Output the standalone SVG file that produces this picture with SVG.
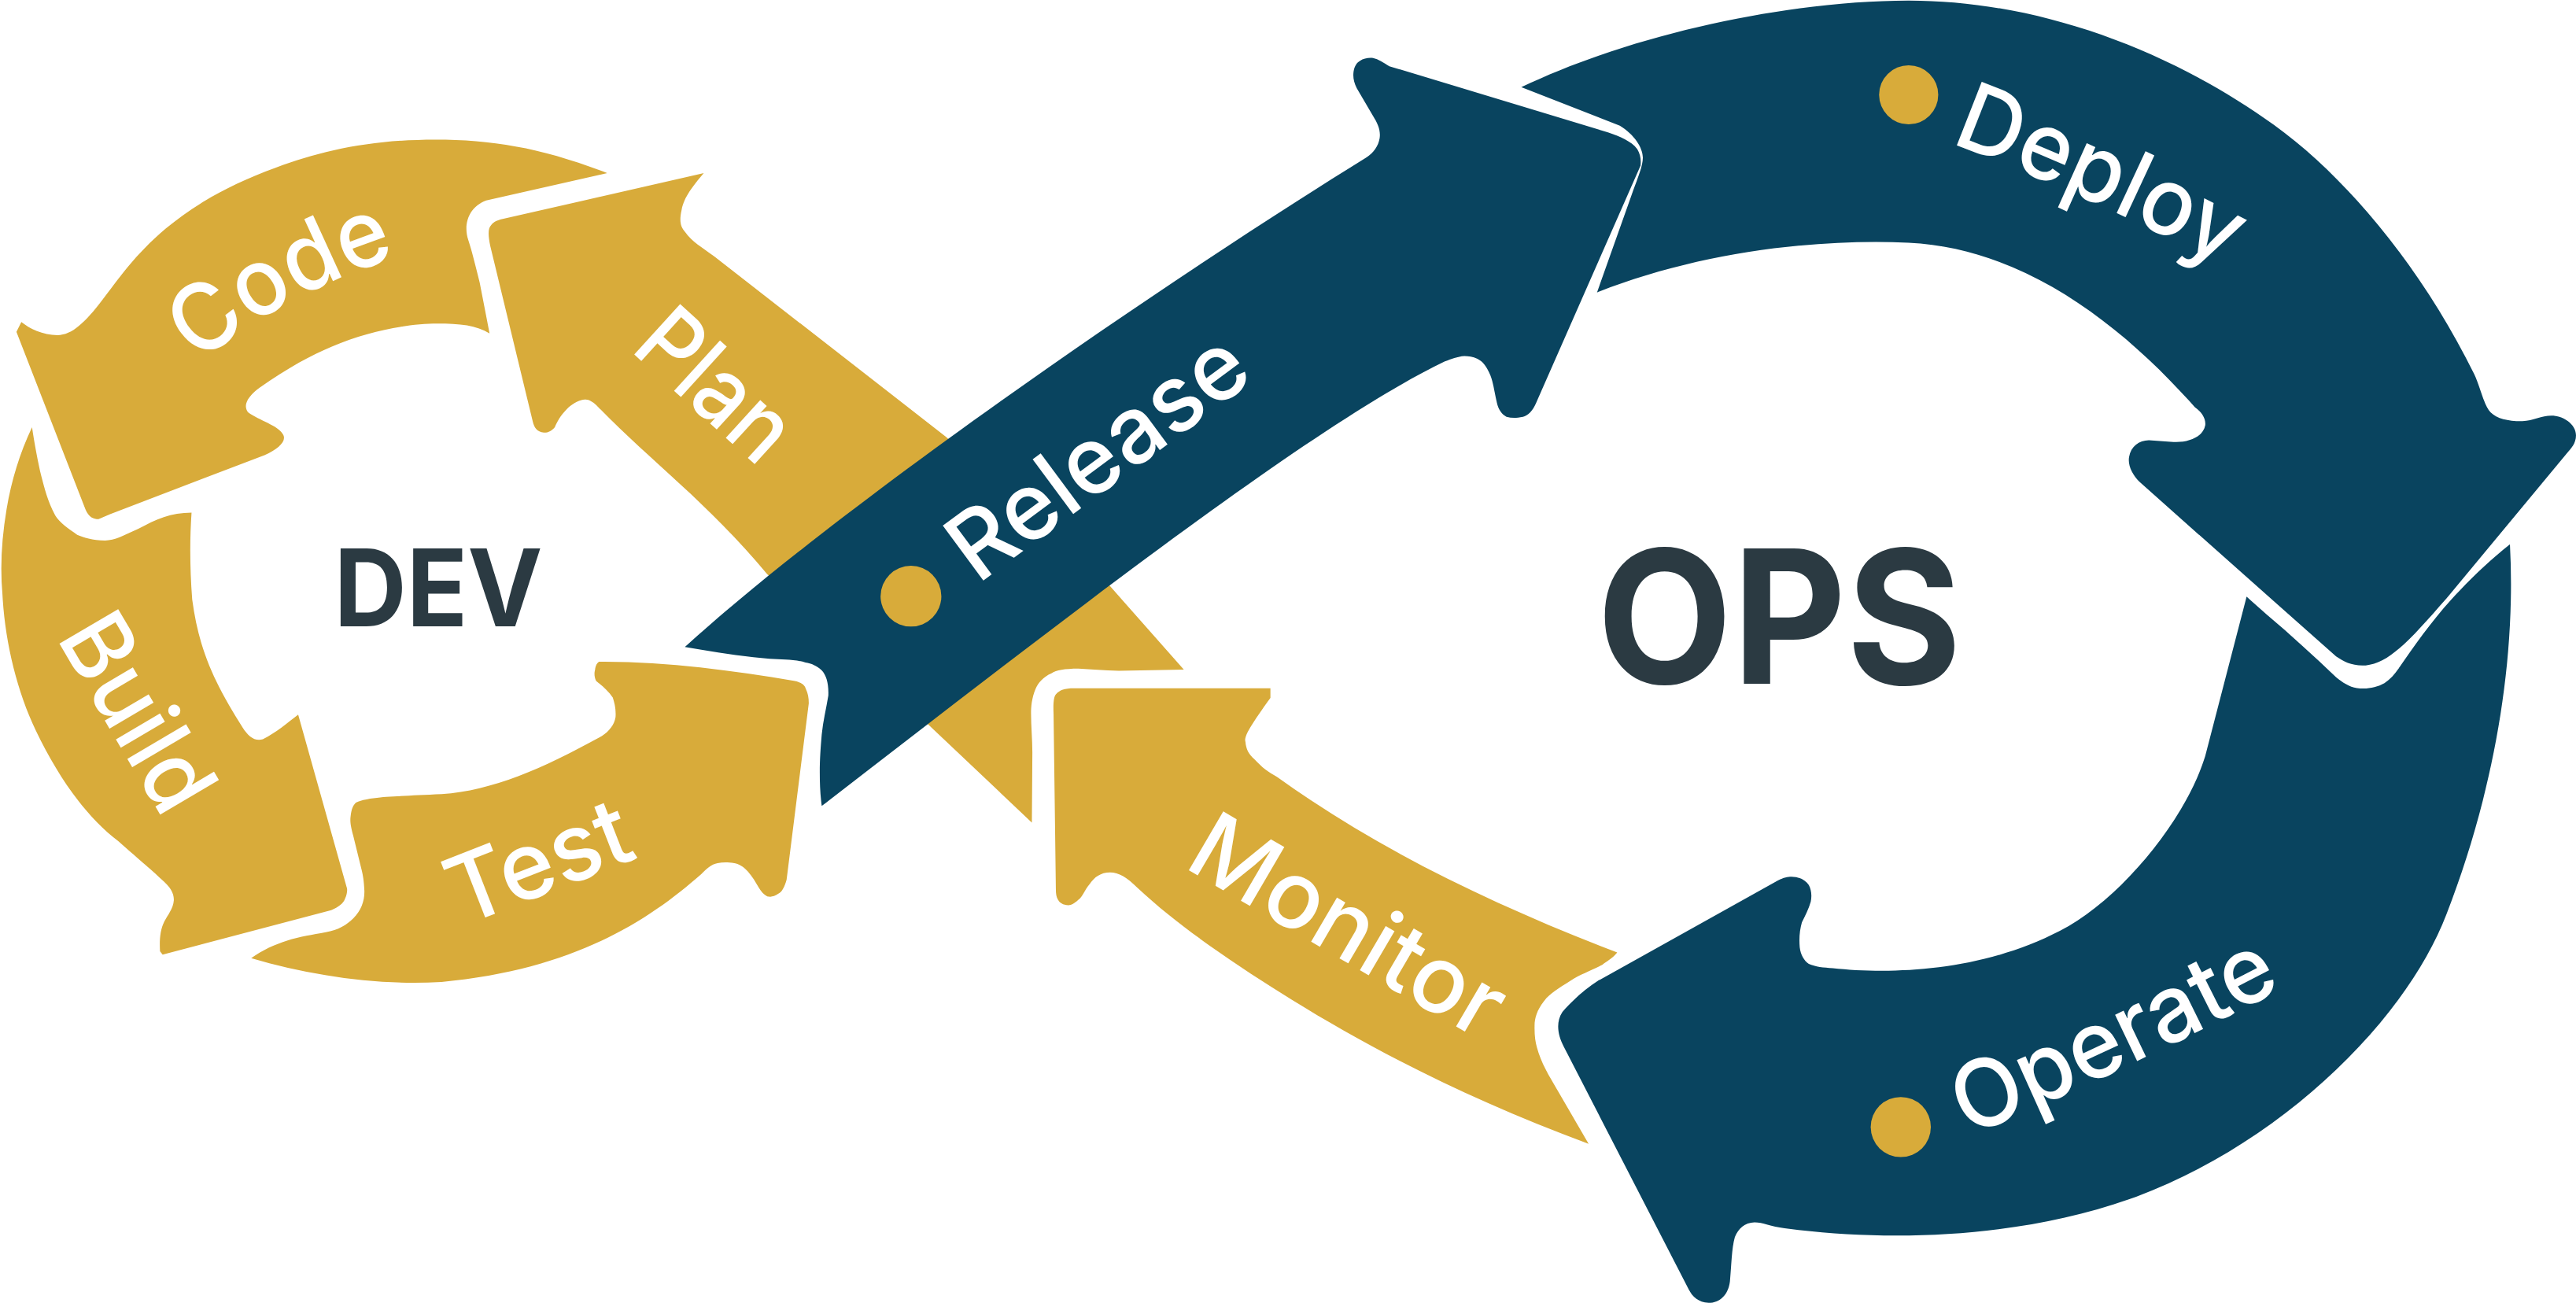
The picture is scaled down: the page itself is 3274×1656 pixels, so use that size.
<svg xmlns="http://www.w3.org/2000/svg" width="3274" height="1656" viewBox="0 0 3274 1656">
<style>
.gold{fill:#D8AB3A}
.navy{fill:#09445F}
.lbl{fill:#FFFFFF;font-family:Inter,"Noto Sans","Liberation Sans",sans-serif;font-weight:500;font-size:57px}
.big{fill:#2B3A42;font-family:Inter,"Noto Sans","Liberation Sans",sans-serif;font-weight:700}
.dot{fill:#D8AB3A}
</style>
<defs>
<path id="pCode" d="M121.4,221.8 Q167.2,180.6 244,155.5"/>
<path id="pDeploy" d="M1187,87 Q1272,119 1358,164"/>
<path id="pOperate" d="M1198,692 Q1302,648 1402,595"/>
</defs>
<rect width="3274" height="1656" fill="#FFFFFF"/>
<g transform="scale(2.088)">
<g id="code">
<path class="gold" d="M369.6,105.4 C330,90 300,85 265,85 C225,85 195,92 168,102 C138,113 118,125 101,139 C82,155 72,170 62,183 C52,196 44,204 35,204 C26,204 18,200 13,196 L10,202 L52,310 C54,315 57,316 60,316 L67,313 L161,277 C170,273 175,268 172,264 C169,259 158,256 151,251 C148,247 150,242 158,236 C175,224 190,216 202,211 C225,201 250,197 266,197 C280,197 290,198 298,203 L292,172 C289,160 287,152 285,146 C282,137 285,126 296,122 Z"/>
<text class="lbl"><textPath href="#pCode" textLength="138" lengthAdjust="spacingAndGlyphs">Code</textPath></text>
</g>
<g id="build">
<path class="gold" d="M19.5,260 C12,276 7,292 4,310 C1,328 0,345 1.5,362 C3,390 10,420 22,445 C35,472 52,497 72,512 C82,521 93,530 98,535 C104,540 106,544 105.8,548 C105.5,553 102,557 100,561 C97.5,566 97,572 97.4,579 L99,581 L201.6,554 C206,552 209,550 210,547 C211.5,544 211.5,541 211,540 L181.5,435 C175,440 168,446 160,450 C155,451.5 151,448 147.8,443 C130,415 121,395 117,365 C115.5,345 115.5,328 116.6,312 C104,312 95,316 84,322 C75,326 70,329 64,329 C56,329 51,327 47,325.5 C42,322 36,318 33.6,313.7 C29,305 27,297 25.2,290 C23,281 21,270 19.5,260 Z"/>
<text class="lbl" transform="translate(34,388) rotate(59.5)" textLength="129" lengthAdjust="spacingAndGlyphs">Build</text>
</g>
<g id="test">
<path class="gold" d="M152.9,583.2 C160,578 167,575 174.7,572.5 C183,570 190,569 198.3,567.4 C206,566 211,563 215,559 C220,554 222,548 221.8,542 C221.5,536 221,533 220,529 L215,508.6 C213.5,503 213,500 213.4,497 C214,492 215,490 216.7,488.5 C222,486 230,485.5 235,485 C245,484.5 255,484 268.8,483.4 C300,481 330,468 366.3,448 C371,445 374,441 374.7,436.4 C375,431 374,428 373,424.6 C370,420 366,417 362.9,414.5 C361.5,412 361.8,409 362.2,407.8 C362.5,405 363.5,403.5 364.6,402.8 C405,402.5 445,408 483.9,414.5 C488,415.5 490,417 490.6,419.6 C491.8,422 492.3,425 492.3,428 L478.8,535.5 C477.5,540 476,543 473.8,544 C471,546 469,546 467,545.6 C465,544.5 463.5,543 462,540.5 C460,537 458,533.5 455.3,530.5 C452.5,527.5 450,526 447,525.4 C443,524.8 440,524.8 436.8,525.4 C433,526 430,529 426.7,532.2 C395,560 350,590 268.8,597.7 C230,600 190,594 152.9,583.2 Z"/>
<text class="lbl" transform="translate(281,564) rotate(-21.3)" textLength="116" lengthAdjust="spacingAndGlyphs">Test</text>
</g>
<g id="plan">
<path class="gold" d="M428.4,105.4 C421,114 416,121 414.9,127.7 C413.5,134 414,138 416.9,141 C421,147 428,151 434.7,156 L576,266 L675,356 L720.6,407.6 L681,408.3 C672,408 664,407.5 656.4,407 C648,407 643,408 640,409.8 C635,412 632,415.5 630.3,419.4 C628,425 627.6,430 627.6,434.4 C627.6,442 628.4,450 628.4,458 L628.1,500.7 L565,441 L467,349.5 C430,305 395,280 362.9,246.5 C360,244 358,243 356,243.2 C352,243.5 348,246 345,249 C341,253 339,257 337.7,260 C336,262 333.5,263.5 331,263.3 C327,263 325,260 324.3,256.6 L298.5,150 C297,143 297,139 299,137 C300.5,135 303,134 306,133.3 Z"/>
<text class="lbl" transform="translate(383,213) rotate(42.3)" textLength="107" lengthAdjust="spacingAndGlyphs">Plan</text>
</g>
<g id="monitor">
<path class="gold" d="M653.7,419 L773.3,419 L773.3,424.8 C768,432 764,438 760.9,443 C758.5,447 757.5,450 758.1,451.5 C758.5,456 760,459 763.6,462.2 C768,467 772,470 777.4,472.9 C840,518 910,551 984.4,579.8 C981,584 978,585 975.3,587.3 C968,591 962,593 956.1,596.9 C948,602 943,605 939.6,609.7 C935.5,615 934,620 934.1,624.7 C934,630 934.5,634 935.5,637.5 C938,647 943,655 947.8,663.2 L967,696.3 C870,660 800,620 736.2,575.5 C720,564 706,553 692.2,540.2 C686,534 681,531 675.7,531 C670,531 666,534 663.3,538.1 C660,542 659,546 656.4,547.7 C654,550 652,551 650.4,551 C647,551 645,549.5 644,547.7 C643,546 642.7,544 642.7,541.3 L641.3,434.4 C641,428 641.5,424 642.7,422.7 C645,420 648,419 653.7,419 Z"/>
<text class="lbl" transform="translate(719.7,527.4) rotate(30.3)" textLength="211" lengthAdjust="spacingAndGlyphs">Monitor</text>
</g>
<g id="release">
<path class="navy" d="M416.9,393.8 C500,318 680,190 831.8,95.8 C836,93 839,89 839.8,84 C840.5,79 838.5,75 835.8,70.6 L825.9,53.8 C824,50 823.5,47 823.9,43.7 C824.5,40 826,38 827.9,37 C830,35.5 833,35 835.8,35.3 C839,36 842,38 845.7,40.3 L978.8,80.6 C986,83 993,86 996.6,90.7 C998.5,94 999,97 998.6,100.8 L935,245.3 C933,250 930,253 927,253.7 C923,254.5 920,254.5 917,253.7 C914,252 912,249 911.2,245.3 C909.5,238 909,233 907.2,228.5 C905,223 902.5,220 899.3,218.4 C896.5,217 894,216.7 891.4,216.7 C887,217 883.5,218.5 879.5,220 C800,258 650,375 500.2,490.6 C499.3,484 499,477 499,470.4 C499,462 499.5,455 500.2,446.9 C501,439 503,431 504.2,423.4 C504.5,416 503,411 500.2,408 C497,405 494,403.8 490.3,403.2 C486,402 482,401.7 478.4,401.5 C472,401.2 465,400.8 458.6,400 C444,398.5 430,396 416.9,393.8 Z"/>
<circle class="dot" cx="554.5" cy="362.9" r="18.5"/>
<text class="lbl" transform="translate(595,356) rotate(-36.5)" textLength="211" lengthAdjust="spacingAndGlyphs">Release</text>
</g>
<g id="deploy">
<path class="navy" d="M926,53.1 C995,20 1090,0.3 1161.8,0.3 C1240,0.3 1320,30 1384,75.9 C1430,109 1475,165 1506,227.6 C1510,236 1512,247 1516,251 C1520,255 1527,256.5 1535.4,256.4 C1542,256 1547,253 1553,253 C1560,253 1568,258 1568,265 C1568,270 1565,273 1562.6,275.7 L1489.2,364.2 C1470,386 1455,404 1440,405 C1432,405.5 1427,403 1422,399.6 L1302.4,293.4 C1298,289 1295,283 1296,278 C1297,272 1302,268 1308,268 L1323,269 C1332,269.5 1341,266 1342.3,259 C1343,254 1339,250 1336,247.8 C1292,198 1232,151 1161.8,147.7 C1100,145 1030,155 972.1,178 L994,116.3 C997,108 1000,101 1000,96 C1000,90 995,82 986,76.5 Z"/>
<circle class="dot" cx="1161.8" cy="57.7" r="18"/>
<text class="lbl"><textPath href="#pDeploy" textLength="184" lengthAdjust="spacingAndGlyphs">Deploy</textPath></text>
</g>
<g id="operate">
<path class="navy" d="M1527.8,331.3 C1532,410 1515,490 1489.2,556.4 C1465,620 1390,695 1300.3,728.4 C1230,754 1150,756 1086.3,747.6 C1078,746.5 1073,744 1068,744 C1062,744 1058,748 1056,753 C1054,760 1054,770 1053,780 C1052,788 1047,793 1040,793 C1034,793 1030,789 1028,785 L952,637.3 C948,630 947,622 951,616 C957,609 965,602 973,596.8 L1082,536 C1086,534 1088,533.6 1090.5,533.6 C1095,533.6 1099,535.5 1101,538.7 C1102.5,541.5 1103,545 1102.2,548.8 C1101,553 1099,557 1096.8,561.4 C1095.5,566 1095,571 1095.5,576.6 C1096,581 1098,584.5 1101,586.7 C1105,588.5 1110,589 1115.6,589.3 C1150,593 1205,592 1254.1,566.5 C1290,548 1330,500 1342.3,460.3 L1367.5,363.2 L1380,374.3 C1394,386 1408,399 1422,412.2 C1426,415.5 1430,418 1434.6,418.8 C1441,419.6 1446.5,418.5 1451.4,415.8 C1455,413.5 1457.5,410.5 1459.8,407.2 C1471,391 1483,374 1497.6,359.1 C1507,349 1517,340 1527.8,331.3 Z"/>
<circle class="dot" cx="1157" cy="686" r="18.3"/>
<text class="lbl"><textPath href="#pOperate" textLength="212" lengthAdjust="spacingAndGlyphs">Operate</textPath></text>
</g>
<g id="dev">
<text class="big" x="203.3" y="381" font-size="65" textLength="127" lengthAdjust="spacingAndGlyphs">DEV</text>
</g>
<g id="ops">
<text class="big" x="972" y="416" font-size="113" textLength="222" lengthAdjust="spacingAndGlyphs">OPS</text>
</g>
</g>
</svg>
